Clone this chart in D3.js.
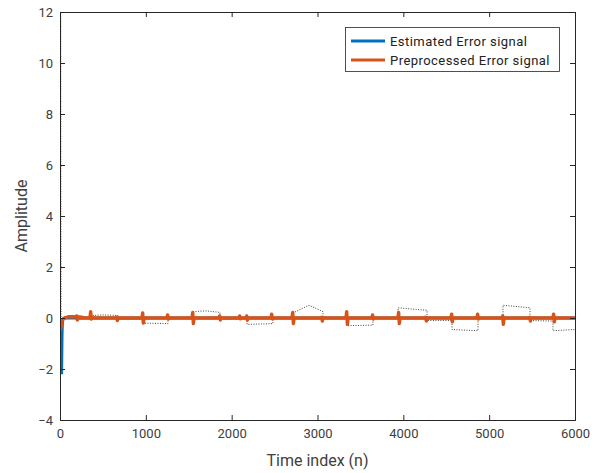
<!DOCTYPE html>
<html><head><meta charset="utf-8">
<script src="https://cdn.jsdelivr.net/npm/d3@7"></script>
<style>body{margin:0;background:#fff}svg{display:block}text{font-family:Roboto,"Liberation Sans",sans-serif}</style>
</head><body><svg id="c" width="603" height="473"></svg>
<script>
const xTicks = [0,1000,2000,3000,4000,5000,6000];
const yTicks = [-4,-2,0,2,4,6,8,10,12];
const seriesNames = ["Estimated Error signal","Preprocessed Error signal"];
// Estimated error signal (blue)
const blueN = [0,20,22,24,26,29,34,45,70,120,6000];
const blueV = [-2.15,-2.15,-1.5,-0.9,-0.5,-0.22,-0.08,-0.02,0,0,0];
// Preprocessed error signal (orange): start transient + spikes at block boundaries
const orangeStartN = [0,12,20,32,50,75,100,160,230,280];
const orangeStartV = [-0.5,-0.35,-0.15,-0.05,0,0.02,0.05,0.05,0.04,0.01];
const spikeN  = [198,361,664,967,1258,1550,1864,2097,2179,2470,2715,3052,3344,3646,3949,4264,4567,4870,5161,5476,5755];
const spikeUp = [0.08,0.25,0.03,0.2,0.12,0.22,0.08,0.08,0.08,0.15,0.22,0.03,0.25,0.12,0.22,0.03,0.15,0.15,0.08,0.03,0.15];
const spikeDn = [0.08,0.04,0.1,0.2,0.04,0.22,0.08,0.03,0.08,0.03,0.22,0.12,0.25,0.04,0.22,0.12,0.15,0.04,0.25,0.12,0.15];
// Reference signal (black dotted): block-wise offsets
const blackN = [8,10,13,20,30,384,384,500,676,676,967,967,1258,1258,1550,1550,1700,1864,1864,2179,2179,2481,2481,2715,2715,2900,3064,3064,3344,3344,3646,3646,3938,3938,4276,4276,4567,4567,4870,4870,5161,5161,5476,5476,5743,5743,6000];
const blackV = [14,5,-2,0,0,0,0.1,0.12,0.1,-0.05,-0.05,-0.2,-0.22,0,0,0.25,0.28,0.22,-0.05,-0.05,-0.25,-0.22,0,0,0.2,0.5,0.25,0,0,-0.3,-0.28,0,0,0.4,0.3,-0.1,-0.1,-0.45,-0.5,0,0,0.5,0.4,-0.1,-0.12,-0.5,-0.45];

const svg = d3.select("#c");
const m = {l:60, r:575, t:12, b:420};
const x = d3.scaleLinear().domain([0,6000]).range([m.l,m.r]);
const y = d3.scaleLinear().domain([-4,12]).range([m.b,m.t]);
const axisCol = "#262626";
const txtCol = "#404040";

svg.append("defs").append("clipPath").attr("id","clip")
  .append("rect").attr("x",m.l).attr("y",m.t).attr("width",m.r-m.l).attr("height",m.b-m.t);

const g = svg.append("g").attr("clip-path","url(#clip)");
const line = d3.line().x(d=>x(d[0])).y(d=>y(d[1]));

const blackData = blackN.map((n,i)=>[n,blackV[i]]);
g.append("path").datum(blackData).attr("d",line).attr("fill","none")
  .attr("stroke","#111").attr("stroke-width",0.8).attr("stroke-dasharray","1,1.5");

const blueData = blueN.map((n,i)=>[n,blueV[i]]);
g.append("path").datum(blueData).attr("d",line).attr("fill","none")
  .attr("stroke","#0072BD").attr("stroke-width",2.8);

const orangeData = orangeStartN.map((n,i)=>[n,orangeStartV[i]]);
spikeN.forEach((n,i)=>{
  orangeData.push([n-12,0],[n-4,spikeUp[i]],[n+4,-spikeDn[i]],[n+12,0]);
});
orangeData.push([6000,0]);
g.append("path").datum(orangeData).attr("d",line).attr("fill","none")
  .attr("stroke","#D95319").attr("stroke-width",3.4).attr("stroke-linejoin","round");

// axes
const ax = svg.append("g").attr("transform",`translate(0,${m.b})`)
  .call(d3.axisBottom(x).tickValues(xTicks).tickSize(-5).tickPadding(9).tickFormat(d3.format("d")));
const ay = svg.append("g").attr("transform",`translate(${m.l},0)`)
  .call(d3.axisLeft(y).tickValues(yTicks).tickSize(-5).tickPadding(7).tickFormat(d3.format("d")));
const axTop = svg.append("g").attr("transform",`translate(0,${m.t})`)
  .call(d3.axisTop(x).tickValues(xTicks).tickSize(-5).tickFormat(""));
const ayR = svg.append("g").attr("transform",`translate(${m.r},0)`)
  .call(d3.axisRight(y).tickValues(yTicks).tickSize(-5).tickFormat(""));
[ax,ay,axTop,ayR].forEach(a=>{
  a.select(".domain").attr("stroke",axisCol).attr("stroke-width",1);
  a.selectAll(".tick line").attr("stroke",axisCol);
  a.selectAll("text").attr("fill",txtCol).attr("font-size",13).attr("font-family","Roboto, sans-serif");
});

svg.append("text").attr("x",(m.l+m.r)/2).attr("y",466).attr("text-anchor","middle")
  .attr("font-size",16).attr("fill",txtCol).text("Time index (n)");
svg.append("text").attr("transform",`translate(27,${(m.t+m.b)/2}) rotate(-90)`).attr("text-anchor","middle")
  .attr("font-size",16).attr("fill",txtCol).text("Amplitude");

// legend
const lg = svg.append("g");
lg.append("rect").attr("x",345.5).attr("y",27.5).attr("width",214).attr("height",44)
  .attr("fill","#fff").attr("stroke","#262626").attr("stroke-width",0.8);
const cols = ["#0072BD","#D95319"];
seriesNames.forEach((s,i)=>{
  const yy = 41 + i*19;
  lg.append("line").attr("x1",351).attr("x2",385).attr("y1",yy).attr("y2",yy)
    .attr("stroke",cols[i]).attr("stroke-width",3);
  lg.append("text").attr("x",390).attr("y",yy+4.5).attr("font-size",13)
    .attr("letter-spacing",0.45).attr("fill","#222").text(s);
});
</script></body></html>
